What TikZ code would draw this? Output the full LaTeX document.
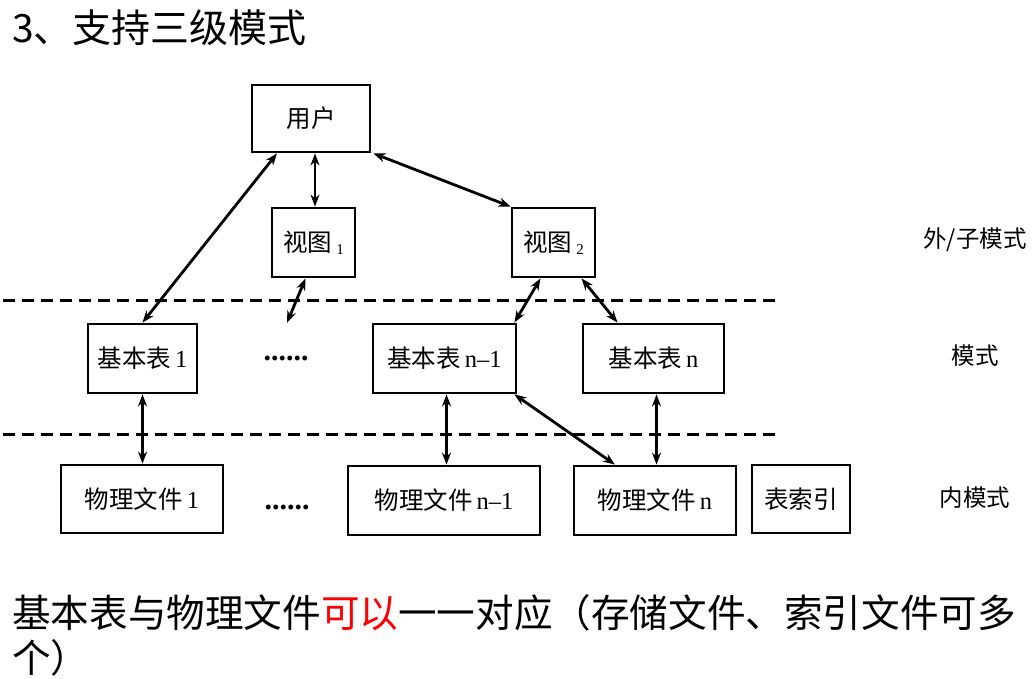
\documentclass[tikz,border=0pt]{standalone}
\usepackage{fontspec}
\setmainfont{Liberation Serif}
\newfontfamily\cjk{Noto Sans CJK SC}
\usetikzlibrary{arrows.meta}
\begin{document}
\begin{tikzpicture}[x=1pt,y=-1pt,
  box/.style={draw,line width=2.8pt,inner sep=0pt,font=\fontsize{24.5}{27}\selectfont},
  arr/.style={line width=2.8pt,{Stealth[length=12pt,width=9pt]}-{Stealth[length=12pt,width=9pt]}},
  sep/.style={line width=3pt,dash pattern=on 12pt off 7pt},
  lvl/.style={font=\cjk\fontsize{23.5}{26}\selectfont},
  big/.style={font=\cjk\fontsize{38.6}{45}\selectfont,inner sep=0pt,anchor=base west},
  dots/.style={inner sep=0pt,font=\bfseries\fontsize{30}{30}\selectfont}
]
\useasboundingbox[fill=white] (0,0) rectangle (1032,678);

% title
\node[font=\cjk\fontsize{39}{42}\selectfont,inner sep=0pt,anchor=base west] (title) at (12,42) {3、支持三级模式};

% boxes
\node[box,minimum width=118pt,minimum height=67pt] (user) at (311,118.5) {{\cjk 用户}};
\node[box,minimum width=83pt,minimum height=69pt] (v1) at (313.5,242.5) {{\cjk 视图}\,\raisebox{-3pt}{\fontsize{15}{15}\selectfont 1}};
\node[box,minimum width=83pt,minimum height=69pt] (v2) at (553.5,242.5) {{\cjk 视图}\,\raisebox{-3pt}{\fontsize{15}{15}\selectfont 2}};

\node[box,minimum width=109pt,minimum height=69pt] (b1) at (142.5,358.5) {{\cjk 基本表}\,1};
\node[dots,minimum width=82pt,minimum height=70pt] (d1) at (286,358) {......};
\node[box,minimum width=143pt,minimum height=69pt] (bn1) at (444.5,358.5) {{\cjk 基本表}\,n–1};
\node[box,minimum width=141pt,minimum height=69pt] (bn) at (653.5,358.5) {{\cjk 基本表}\,n};

\node[box,minimum width=162pt,minimum height=68pt] (p1) at (142,499) {{\cjk 物理文件}\,1};
\node[dots,minimum width=82pt,minimum height=68pt] (d2) at (287,507) {......};
\node[box,minimum width=192pt,minimum height=69pt] (pn1) at (444,500.5) {{\cjk 物理文件}\,n–1};
\node[box,minimum width=162pt,minimum height=69pt] (pn) at (655,500.5) {{\cjk 物理文件}\,n};
\node[box,minimum width=98pt,minimum height=68pt] (idx) at (801,499) {{\cjk 表索引}};

% level labels
\node[lvl] (l1) at (975,240) {外/子模式};
\node[lvl] (l2) at (975,356) {模式};
\node[lvl] (l3) at (975,498) {内模式};

% dashed separators
\coordinate (s1a) at (3,300);
\coordinate (s1b) at (778,300);
\coordinate (s2a) at (3,434);
\coordinate (s2b) at (778,434);
\draw[sep] (s1a) -- (s1b);
\draw[sep] (s2a) -- (s2b);

% connectors
\draw[arr] ([xshift=-34pt]user.south) -- (b1.north);
\draw[arr] ([xshift=4pt]user.south) -- ([xshift=4pt]user.south |- v1.north);
\draw[arr] ([xshift=2pt]user.south east) -- (v2.north west);
\draw[arr] ([xshift=-8pt]v1.south) -- ([xshift=1pt]d1.north);
\draw[arr] ([xshift=-13pt]v2.south) -- ([xshift=-3pt]bn1.north east);
\draw[arr] ([xshift=28pt]v2.south) -- ([xshift=-36pt]bn.north);
\draw[arr] (b1.south) -- (b1.south |- p1.north);
\draw[arr] ([xshift=2pt]bn1.south) -- ([xshift=2pt]bn1.south |- pn1.north);
\draw[arr] ([xshift=-3pt]bn1.south east) -- ([xshift=-40pt]pn.north);
\draw[arr] ([xshift=3pt]bn.south) -- ([xshift=3pt]bn.south |- pn.north);

% bottom text
\node[big] (t1) at (12,627) {基本表与物理文件\textcolor{red}{可以}一一对应（存储文件、索引文件可多};
\node[big] (t2) at (12,672) {个）};
\end{tikzpicture}
\end{document}
